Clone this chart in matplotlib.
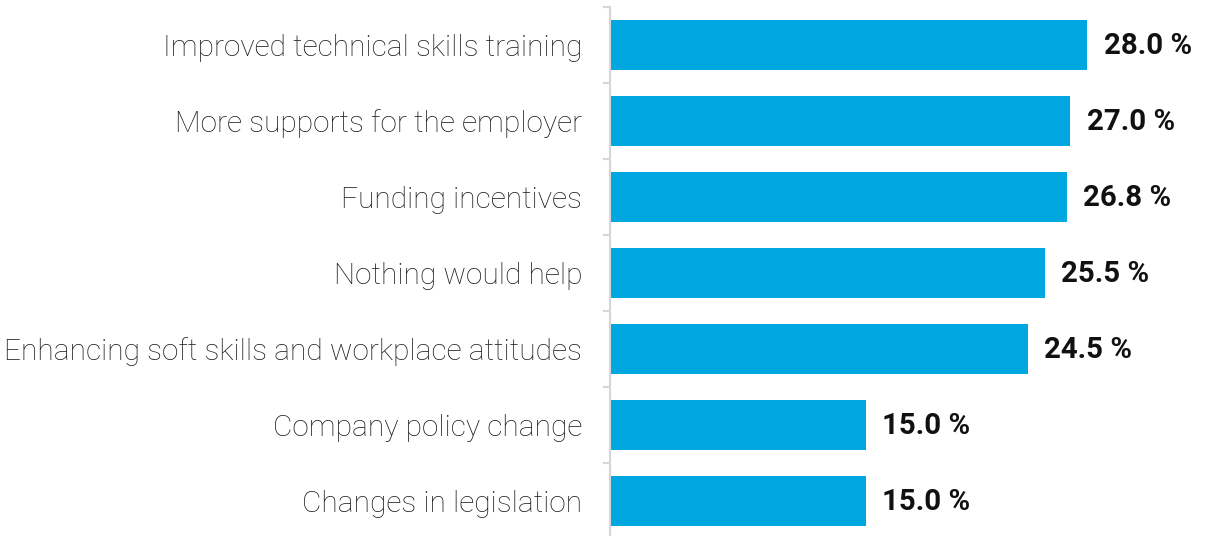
import numpy as np
import matplotlib.pyplot as plt

categories = [
    "Improved technical skills training",
    "More supports for the employer",
    "Funding incentives",
    "Nothing would help",
    "Enhancing soft skills and workplace attitudes",
    "Company policy change",
    "Changes in legislation",
]
values = [28.0, 27.0, 26.8, 25.5, 24.5, 15.0, 15.0]

bar_color = "#00a6df"
axis_color = "#d6d6d6"

fig = plt.figure(figsize=(12.07, 5.36), dpi=100)
ax = fig.add_axes([610 / 1207, -3 / 536, 597 / 1207, 532 / 536])

y = np.arange(len(categories))
ax.barh(y, values, height=0.66, color=bar_color, edgecolor="none")

# value labels to the right of each bar
for yi, v in zip(y, values):
    ax.annotate(f"{v:.1f} %", (v, yi), xytext=(12, -1), textcoords="offset points",
                va="center", ha="left", fontsize=21.2, fontweight="bold",
                family="Roboto", color="#111111")

ax.set_xlim(0, 35.03)
ax.set_ylim(len(categories) - 0.5, -0.5)

ax.set_yticks(y)
ax.set_yticklabels(categories, fontsize=21.5, family="Roboto", fontweight="light",
                   color="#1e1e1e")
ax.set_yticks(np.arange(len(categories) + 1) - 0.5, minor=True)
ax.tick_params(axis="y", which="major", length=0, pad=20)
ax.tick_params(axis="y", which="minor", length=5, width=1.5, color=axis_color)
ax.set_xticks([])

for side in ["top", "right", "bottom"]:
    ax.spines[side].set_visible(False)
ax.spines["left"].set_color(axis_color)
ax.spines["left"].set_linewidth(1.5)

fig.savefig("out.png", dpi=100)
